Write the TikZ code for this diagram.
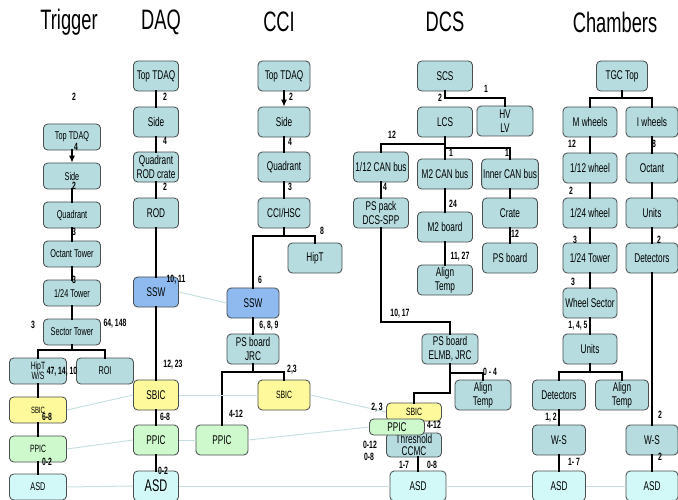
\documentclass[tikz,border=0pt]{standalone}
\usepackage{fontspec}
\setmainfont{Liberation Sans}[FakeStretch=0.65]
\usetikzlibrary{arrows.meta}
\definecolor{boxteal}{HTML}{B6DCDF}
\definecolor{boxedge}{HTML}{4A4F50}
\definecolor{sswblue}{HTML}{8EBAF0}
\definecolor{sbicyellow}{HTML}{FEF99A}
\definecolor{ppicgreen}{HTML}{CEF9CC}
\definecolor{asdcyan}{HTML}{D2F8F8}
\definecolor{paleline}{HTML}{C8DFE1}
\tikzset{
  box/.style={draw=boxedge, fill=boxteal, line width=0.6pt, rounded corners=3pt,
    minimum width=#1, minimum height=0.75cm, inner sep=1pt, align=center,
    font=\fontsize{9}{10}\selectfont},
  box/.default=1.35cm,
  tbox/.style={box=1.425cm, minimum height=0.65cm, font=\fontsize{8}{8.5}\selectfont},
  ssw/.style={fill=sswblue},
  sbic/.style={fill=sbicyellow},
  ppic/.style={fill=ppicgreen},
  asd/.style={fill=asdcyan},
  title/.style={font=\fontsize{20}{22}\selectfont},
  num/.style={font=\bfseries\fontsize{7.5}{8}\selectfont, inner sep=0pt},
  bus/.style={line width=2pt, line cap=rect},
  pale/.style={draw=paleline, line width=0.7pt},
  tip/.style={-{Latex[length=5pt,width=4.5pt]}}
}
\begin{document}
\begin{tikzpicture}[x=0.025cm, y=-0.025cm]
\useasboundingbox (0,0) rectangle (678,500);
% titles
\node[title] (trigger) at (69,22) {Trigger};
\node[title] (daq) at (161,22) {DAQ};
\node[title] (cci) at (279,22) {CCI};
\node[title] (dcs) at (445,22) {DCS};
\node[title] (chambers) at (615,22) {Chambers};
% trigger
\node[tbox] (tTop) at (72,137) {Top TDAQ};
\node[tbox] (tSide) at (72,176) {Side};
\node[tbox] (tQuad) at (72,215) {Quadrant};
\node[tbox] (tOct) at (72,254) {Octant Tower};
\node[tbox] (t124) at (72,293) {1/24 Tower};
\node[tbox] (tSec) at (72,332) {Sector Tower};
\node[tbox, font=\fontsize{7.5}{7}\selectfont] (tHipT) at (38,371) {HipT\\W/S};
\node[tbox] (tROI) at (105,371) {ROI};
\node[tbox, sbic, font=\fontsize{6.5}{7}\selectfont] (tSBIC) at (38,410) {SBIC};
\node[tbox, ppic, font=\fontsize{7.5}{8}\selectfont] (tPPIC) at (38,449) {PPIC};
\node[tbox, asd] (tASD) at (38,487) {ASD};
% daq
\node[box=1.125cm] (dTop) at (156,76) {Top TDAQ};
\node[box=1.125cm] (dSide) at (156,122) {Side};
\node[box=1.125cm] (dQuad) at (156,167) {Quadrant\\ROD crate};
\node[box=1.125cm] (dROD) at (156,213) {ROD};
\node[box=1.125cm, ssw] (dSSW) at (156,292) {SSW};
\node[box=1.125cm, sbic] (dSBIC) at (156,395) {SBIC};
\node[box=1.125cm, ppic] (dPPIC) at (156,440) {PPIC};
\node[box=1.125cm, asd, font=\fontsize{12}{12}\selectfont] (dASD) at (156,486) {ASD};
% cci
\node[box=1.3cm] (cTop) at (284,76) {Top TDAQ};
\node[box=1.3cm] (cSide) at (284,122) {Side};
\node[box=1.3cm] (cQuad) at (284,167) {Quadrant};
\node[box=1.3cm] (cHSC) at (284,213) {CCI/HSC};
\node[box=1.35cm] (cHipT) at (315,258) {HipT};
\node[box=1.3cm, ssw] (cSSW) at (253,303) {SSW};
\node[box=1.3cm] (cPS) at (253,349) {PS board\\JRC};
\node[box=1.3cm, sbic, font=\fontsize{7.5}{8}\selectfont] (cSBIC) at (284,395) {SBIC};
\node[box=1.3cm, ppic] (cPPIC) at (222,440) {PPIC};
% dcs
\node[box=1.375cm] (sSCS) at (445,76) {SCS};
\node[box=1.375cm] (sLCS) at (445,122) {LCS};
\node[box=1.4cm] (sHVLV) at (505,121) {HV\\LV};
\node[box=1.375cm] (s12CAN) at (381,167) {1/12 CAN bus};
\node[box=1.375cm] (sPSpack) at (381,213) {PS pack\\DCS-SPP};
\node[box=1.375cm] (sM2CAN) at (445,174) {M2 CAN bus};
\node[box=1.375cm] (sM2b) at (445,227) {M2 board};
\node[box=1.375cm] (sAlignA) at (445,280) {Align\\Temp};
\node[box=1.375cm] (sInner) at (510,174) {Inner CAN bus};
\node[box=1.375cm] (sCrate) at (510,213) {Crate};
\node[box=1.375cm] (sPSb) at (510,258) {PS board};
\node[box=1.4cm] (sPSelmb) at (450,349) {PS board\\ELMB, JRC};
\node[box=1.4cm] (sAlignB) at (483,395) {Align\\Temp};
\node[box=1.375cm, minimum height=0.6cm, font=\fontsize{9}{8}\selectfont] (sThr) at (414,445) {Threshold\\CCMC};
\node[box=1.375cm, sbic, minimum height=0.45cm, font=\fontsize{7.5}{8}\selectfont] (sSBIC) at (414,412) {SBIC};
\node[box=1.375cm, ppic, minimum height=0.4cm] (sPPIC) at (397,427) {PPIC};
\node[box=1.4cm, asd] (sASD) at (418,486) {ASD};
% chambers
\node[box=1.275cm] (hTop) at (622,76) {TGC Top};
\node[box] (hM) at (590,122) {M wheels};
\node[box] (h112) at (590,168) {1/12 wheel};
\node[box] (h124w) at (590,213) {1/24 wheel};
\node[box] (h124t) at (590,258) {1/24 Tower};
\node[box] (hWS) at (590,303) {Wheel Sector};
\node[box] (hUnits) at (590,349) {Units};
\node[box=1.325cm] (hDet) at (559,395) {Detectors};
\node[box=1.325cm] (hAlign) at (622,395) {Align\\Temp};
\node[box=1.325cm] (hWSl) at (559,440) {W-S};
\node[box=1.325cm, asd] (hASDl) at (559,486) {ASD};
\node[box=1.3cm] (hI) at (652,122) {I wheels};
\node[box=1.3cm] (hOct) at (652,168) {Octant};
\node[box=1.3cm] (hUnitsB) at (652,213) {Units};
\node[box=1.3cm] (hDetB) at (652,258) {Detectors};
\node[box=1.3cm] (hWSr) at (652,440) {W-S};
\node[box=1.3cm, asd] (hASDr) at (652,486) {ASD};
% branch points
\coordinate (tSecBus) at (72,350);
\coordinate (cHSCBus) at (284,236);
\coordinate (cPSBus) at (253,372);
\coordinate (sSCSBus) at (445,98);
\coordinate (sLCSBus) at (445,144);
\coordinate (sLCSBusB) at (445,148);
\coordinate (sPackBus) at (381,322);
\coordinate (sElmbBus) at (450,373);
\coordinate (sElmbDown) at (450,393);
\coordinate (hTopBus) at (622,98);
\coordinate (hUnitsBus) at (590,372);
% trigger links
\path[draw,bus,tip] (tTop) -- (tSide);
\path[draw,bus] (tSide) -- (tQuad);
\path[draw,bus] (tQuad) -- (tOct);
\path[draw,bus] (tOct) -- (t124);
\path[draw,bus] (t124) -- (tSec);
\path[draw,bus] (tSec) -- (tSecBus) -| (tHipT);
\path[draw,bus] (tSecBus) -| (tROI);
\path[draw,bus] (tHipT) -- (tSBIC);
\path[draw,bus] (tSBIC) -- (tPPIC);
\path[draw,bus] (tPPIC) -- (tASD);
% daq links
\path[draw,bus] (dTop) -- (dSide);
\path[draw,bus] (dSide) -- (dQuad);
\path[draw,bus] (dQuad) -- (dROD);
\path[draw,bus] (dROD) -- (dSSW);
\path[draw,bus] (dSSW) -- (dSBIC);
\path[draw,bus] (dSBIC) -- (dPPIC);
\path[draw,bus] (dPPIC) -- (dASD);
% cci links
\path[draw,bus,tip] (cTop) -- (cSide);
\path[draw,bus] (cSide) -- (cQuad);
\path[draw,bus] (cQuad) -- (cHSC);
\path[draw,bus] (cHSC) -- (cHSCBus) -| (cSSW);
\path[draw,bus] (cHSCBus) -| (cHipT);
\path[draw,bus] (cSSW) -- (cPS);
\path[draw,bus] (cPS) -- (cPSBus) -| (cSBIC);
\path[draw,bus] (cPSBus) -| (cPPIC);
% dcs links
\path[draw,bus] (sSCS) -- (sSCSBus) -| (sHVLV);
\path[draw,bus] (sLCS) -- (sLCSBus) -| (s12CAN);
\path[draw,bus] (sLCSBus) -- (sM2CAN);
\path[draw,bus] (sLCSBusB) -| (sInner);
\path[draw,bus] (s12CAN) -- (sPSpack);
\path[draw,bus] (sM2CAN) -- (sM2b);
\path[draw,bus] (sM2b) -- (sAlignA);
\path[draw,bus] (sInner) -- (sCrate);
\path[draw,bus] (sCrate) -- (sPSb);
\path[draw,bus] (sPSpack) -- (sPackBus) -| (sPSelmb);
\path[draw,bus] (sPSelmb) -- (sElmbDown) -| (sSBIC);
\path[draw,bus] (sElmbBus) -| (sAlignB);
\path[draw,bus] (sThr.south -| sASD) -- (sASD);
% chambers links
\path[draw,bus] (hTop) -- (hTopBus) -| (hM);
\path[draw,bus] (hTopBus) -| (hI);
\path[draw,bus] (hM) -- (h112);
\path[draw,bus] (h112) -- (h124w);
\path[draw,bus] (h124w) -- (h124t);
\path[draw,bus] (h124t) -- (hWS);
\path[draw,bus] (hWS) -- (hUnits);
\path[draw,bus] (hUnits) -- (hUnitsBus) -| (hDet);
\path[draw,bus] (hUnitsBus) -| (hAlign);
\path[draw,bus] (hDet) -- (hWSl);
\path[draw,bus] (hWSl) -- (hASDl);
\path[draw,bus] (hI) -- (hOct);
\path[draw,bus] (hOct) -- (hUnitsB);
\path[draw,bus] (hUnitsB) -- (hDetB);
\path[draw,bus] (hDetB) -- (hWSr);
\path[draw,bus] (hWSr) -- (hASDr);
% cross links
\path[pale] (dSSW.east) -- (cSSW.west);
\path[pale] (tSBIC.east) -- (dSBIC.west);
\path[pale] (dSBIC.east) -- (cSBIC.west);
\path[pale] (cSBIC.east) -- (sSBIC.west);
\path[pale] (tPPIC.east) -- (dPPIC.west);
\path[pale] (dPPIC.east) -- (cPPIC.west);
\path[pale] (cPPIC.east) -- (sPPIC.west);
\path[pale] (tASD.east) -- (dASD.west);
\path[pale] (dASD.east) -- (sASD.west);
\path[pale] (sASD.east) -- (hASDl.west);
\path[pale] (hASDl.east) -- (hASDr.west);
% multiplicities
\node[num] (tn1) at (74,97) {2};
\node[num] (tn2) at (76,147) {4};
\node[num] (tn3) at (74,186) {2};
\node[num] (tn4) at (74,232) {3};
\node[num] (tn5) at (74,280) {3};
\node[num] (tn6) at (33,325) {3};
\node[num] (tn7) at (115,324) {64, 148};
\node[num] (tn8) at (62,372) {47, 14, 10};
\node[num] (tn9) at (47,417) {6-8};
\node[num] (tn10) at (47,462) {0-2};
\node[num] (dn1) at (165,97) {2};
\node[num] (dn2) at (165,141) {4};
\node[num] (dn3) at (165,187) {2};
\node[num] (dn4) at (176,280) {10, 11};
\node[num] (dn5) at (173,365) {12, 23};
\node[num] (dn6) at (165,417) {6-8};
\node[num] (dn7) at (163,471) {0-2};
\node[num] (cn1) at (291,97) {2};
\node[num] (cn2) at (290,142) {4};
\node[num] (cn3) at (290,187) {3};
\node[num] (cn4) at (322,231) {8};
\node[num] (cn5) at (260,280) {6};
\node[num] (cn6) at (269,326) {6, 8, 9};
\node[num] (cn7) at (292,370) {2,3};
\node[num] (cn8) at (236,414) {4-12};
\node[num] (sn1) at (440,98) {2};
\node[num] (sn2) at (486,89) {1};
\node[num] (sn3) at (392,135) {12};
\node[num] (sn4) at (451,153) {1};
\node[num] (sn5) at (507,153) {1};
\node[num] (sn6) at (385,187) {4};
\node[num] (sn7) at (453,204) {24};
\node[num] (sn8) at (460,257) {11, 27};
\node[num] (sn9) at (515,234) {12};
\node[num] (sn10) at (400,314) {10, 17};
\node[num] (sn11) at (490,372) {0 - 4};
\node[num] (sn12) at (377,408) {2, 3};
\node[num] (sn13) at (434,425) {4-12};
\node[num] (sn14) at (370,445) {0-12};
\node[num] (sn15) at (369,457) {0-8};
\node[num] (sn16) at (404,465) {1-7};
\node[num] (sn17) at (432,465) {0-8};
\node[num] (hn1) at (572,144) {12};
\node[num] (hn2) at (571,191) {2};
\node[num] (hn3) at (575,240) {3};
\node[num] (hn4) at (573,282) {3};
\node[num] (hn5) at (578,326) {1, 4, 5};
\node[num] (hn6) at (551,418) {1, 2};
\node[num] (hn7) at (574,462) {1- 7};
\node[num] (hn8) at (654,144) {8};
\node[num] (hn9) at (659,240) {2};
\node[num] (hn10) at (660,415) {2};
\node[num] (hn11) at (660,457) {2};
\end{tikzpicture}
\end{document}
